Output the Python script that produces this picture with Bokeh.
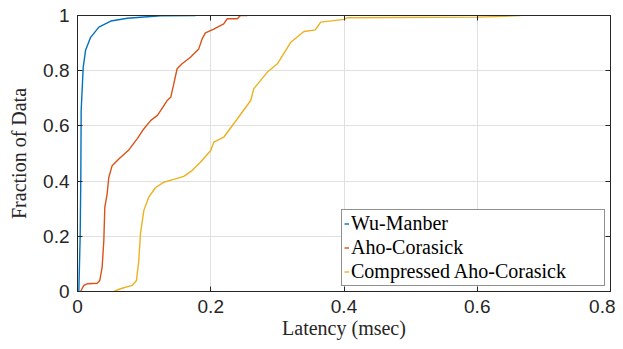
from bokeh.plotting import figure
from bokeh.models import FixedTicker, LinearAxis, Legend, LegendItem, Range1d
from bokeh.embed import file_html
from bokeh.resources import INLINE

# Data
wu_x = [0.002, 0.004, 0.005, 0.0055, 0.0085, 0.012, 0.0195, 0.032, 0.05, 0.075, 0.125, 0.177]
wu_y = [0.0, 0.2, 0.42, 0.656, 0.81, 0.873, 0.92, 0.958, 0.98, 0.99, 0.999, 1.0]

aho_x = [0.0045, 0.0095, 0.0145, 0.0295, 0.0335, 0.037, 0.0395, 0.041, 0.0445, 0.047, 0.052,
         0.062, 0.077, 0.0895, 0.0995, 0.11, 0.12, 0.125, 0.1345, 0.14, 0.1445, 0.1495, 0.157,
         0.1695, 0.182, 0.187, 0.192, 0.2045, 0.2195, 0.2245, 0.24, 0.2445, 0.255]
aho_y = [0.0, 0.022, 0.028, 0.03, 0.04, 0.088, 0.185, 0.305, 0.354, 0.414, 0.456,
         0.48, 0.513, 0.553, 0.589, 0.62, 0.638, 0.656, 0.692, 0.704, 0.752, 0.807, 0.825,
         0.849, 0.879, 0.915, 0.937, 0.951, 0.97, 0.988, 0.988, 1.0, 1.0]

cmp_x = [0.0545, 0.0645, 0.082, 0.0885, 0.092, 0.0945, 0.0995, 0.107, 0.117, 0.1295, 0.1445,
         0.1595, 0.172, 0.1845, 0.2, 0.2045, 0.2145, 0.2195, 0.24, 0.26, 0.2645, 0.285, 0.3,
         0.32, 0.34, 0.357, 0.365, 0.4, 0.405, 0.6, 0.64, 0.665]
cmp_y = [0.0, 0.01, 0.022, 0.04, 0.112, 0.209, 0.293, 0.342, 0.376, 0.396, 0.406,
         0.417, 0.438, 0.468, 0.511, 0.541, 0.553, 0.559, 0.626, 0.692, 0.734, 0.795, 0.825,
         0.903, 0.942, 0.948, 0.976, 0.986, 0.992, 0.994, 0.997, 1.0]

series_names = ["Wu-Manber", "Aho-Corasick", "Compressed Aho-Corasick"]
series_colors = ["#0072BD", "#D95319", "#EDB120"]

x_ticks = [0, 0.2, 0.4, 0.6, 0.8]
x_tick_labels = ["0", "0.2", "0.4", "0.6", "0.8"]
y_ticks = [0, 0.2, 0.4, 0.6, 0.8, 1.0]
y_tick_labels = ["0", "0.2", "0.4", "0.6", "0.8", "1"]

p = figure(width=615, height=341, output_backend="svg", toolbar_location=None,
           x_range=Range1d(0, 0.8), y_range=Range1d(0, 1),
           min_border_left=77, min_border_right=5, min_border_top=15, min_border_bottom=50)
p.background_fill_color = "white"
p.border_fill_color = "white"
p.outline_line_color = "#262626"
p.outline_line_alpha = 0.8

axis_color = "#262626"
for ax in [p.xaxis[0], p.yaxis[0]]:
    ax.major_tick_in = 5
    ax.major_tick_out = 0
    ax.minor_tick_in = 0
    ax.minor_tick_out = 0
    ax.axis_line_color = axis_color
    ax.major_tick_line_color = axis_color
    ax.major_label_text_font = "Liberation Sans"
    ax.major_label_text_font_size = "19px"
    ax.major_label_text_color = "#262626"
    ax.axis_label_text_font = "Liberation Serif"
    ax.axis_label_text_font_size = "20px"
    ax.axis_label_text_font_style = "normal"
    ax.axis_label_text_color = "#262626"

p.xaxis[0].ticker = FixedTicker(ticks=x_ticks)
p.xaxis[0].major_label_overrides = {t: l for t, l in zip(x_ticks, x_tick_labels)}
p.yaxis[0].ticker = FixedTicker(ticks=y_ticks)
p.yaxis[0].major_label_overrides = {t: l for t, l in zip(y_ticks, y_tick_labels)}
p.xaxis[0].axis_label = "Latency (msec)"
p.yaxis[0].axis_label = "Fraction of Data"
p.xaxis[0].major_label_standoff = 8
p.xaxis[0].axis_label_standoff = 1
p.yaxis[0].major_label_standoff = 8
p.yaxis[0].axis_label_standoff = 10

# box-style ticks on top and right
top = LinearAxis(ticker=FixedTicker(ticks=x_ticks), major_label_text_font_size="0px",
                 major_tick_in=5, major_tick_out=0, minor_tick_in=0, minor_tick_out=0,
                 axis_line_color=axis_color, major_tick_line_color=axis_color,
                 major_label_standoff=0)
right = LinearAxis(ticker=FixedTicker(ticks=y_ticks), major_label_text_font_size="0px",
                   major_tick_in=5, major_tick_out=0, minor_tick_in=0, minor_tick_out=0,
                   axis_line_color=axis_color, major_tick_line_color=axis_color,
                   major_label_standoff=0)
top.major_label_text_color = None
right.major_label_text_color = None
p.add_layout(top, "above")
p.add_layout(right, "right")

p.xgrid.ticker = FixedTicker(ticks=x_ticks)
p.ygrid.ticker = FixedTicker(ticks=y_ticks)
p.xgrid.grid_line_color = "#e0e0e0"
p.ygrid.grid_line_color = "#e0e0e0"

renderers = []
for xs, ys, c in zip([wu_x, aho_x, cmp_x], [wu_y, aho_y, cmp_y], series_colors):
    r = p.line(xs, ys, line_color=c, line_width=1.4)
    renderers.append(r)

legend = Legend(items=[LegendItem(label=n, renderers=[r]) for n, r in zip(series_names, renderers)],
                location="bottom_right")
legend.label_text_font = "Liberation Serif"
legend.label_text_font_size = "20px"
legend.label_text_color = "black"
legend.glyph_width = 5
legend.glyph_height = 21
legend.label_height = 21
legend.label_width = 251
legend.label_standoff = 2
legend.spacing = 1
legend.padding = 2
legend.margin = 5
legend.border_line_color = "#222222"
legend.border_line_width = 1
legend.background_fill_color = "white"
legend.background_fill_alpha = 1.0
p.add_layout(legend, "center")

open("out.html", "w").write(file_html(p, INLINE))
